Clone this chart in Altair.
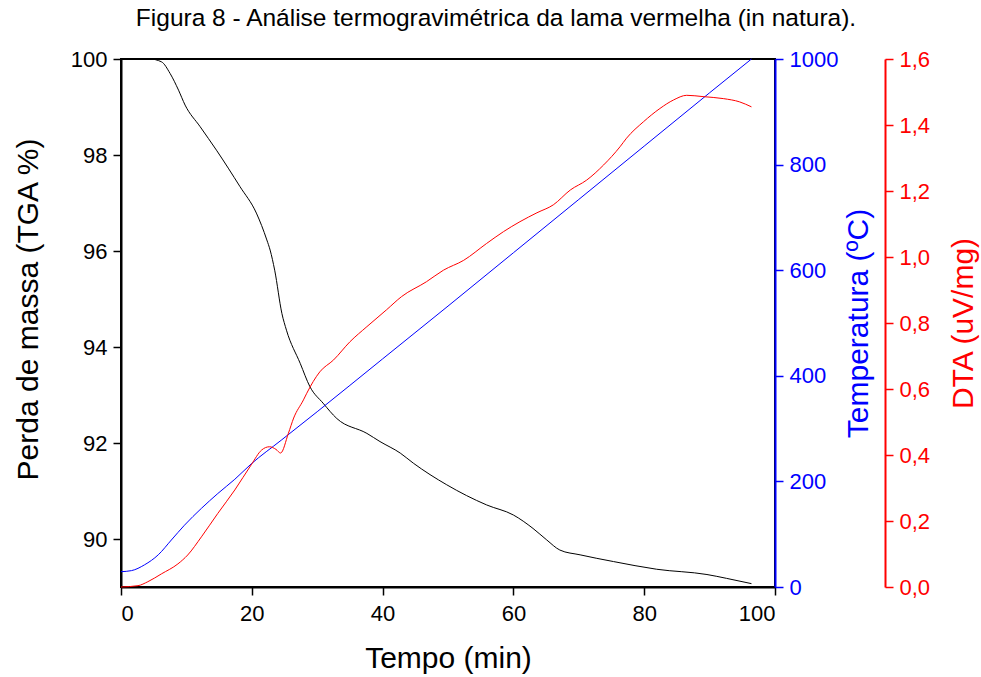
import altair as alt
import pandas as pd

# ---- data ----
tga_t = [0, 4.4, 6.2, 7.5, 8.8, 9.8, 12.1, 14.6, 18.2, 20.7, 22.3, 22.8, 23.5, 24.6, 25.3,
         27.4, 28.9, 30.9, 33.0, 37.6, 39.6, 42.7, 44.7, 49.8, 55.9, 60.0, 63.0, 65.1, 67.1,
         70.2, 75.3, 81.9, 89.6, 92.6, 96.4]
tga_v = [100, 100, 99.94, 99.7, 99.35, 99.04, 98.59, 98.1, 97.34, 96.79, 96.23, 96.02, 95.6, 94.7, 94.35,
         93.66, 93.17, 92.83, 92.51, 92.2, 92.03, 91.79, 91.58, 91.13, 90.71, 90.5, 90.22, 89.98, 89.77,
         89.67, 89.53, 89.37, 89.26, 89.18, 89.07]

temp_t = [0, 1.6, 3.6, 5.7, 7.7, 9.7, 12.3, 14.8, 17.4, 19.9, 24.5, 30, 40, 50, 60, 70, 80, 90, 96.4]
temp_v = [29, 31, 42, 61, 89, 117, 149, 177, 204, 233, 278, 332, 432, 532, 633, 734, 835, 936, 1000]

dta_t = [0, 2.6, 4.1, 6.2, 8.7, 10.2, 12.3, 14.8, 17.4, 19.9, 21.5, 22.7, 23.7, 24.4, 25.6, 26.4,
         27.9, 28.4, 30.4, 32.5, 35.0, 37.6, 40.6, 42.9, 46.7, 49.3, 52.4, 55.9, 58.5, 61.0, 63.6,
         66.1, 68.7, 71.2, 73.8, 76.3, 77.3, 79.9, 82.4, 84.5, 86.5, 89.0, 92.1, 94.6, 96.4]
dta_v = [0, 0.004, 0.016, 0.04, 0.07, 0.097, 0.152, 0.223, 0.294, 0.37, 0.415, 0.425, 0.417, 0.406, 0.466, 0.512,
         0.567, 0.587, 0.652, 0.688, 0.743, 0.789, 0.84, 0.88, 0.925, 0.96, 0.99, 1.041, 1.077, 1.107, 1.134,
         1.158, 1.203, 1.233, 1.279, 1.334, 1.36, 1.41, 1.45, 1.476, 1.49, 1.486, 1.48, 1.47, 1.455]

x_ticks = [0, 20, 40, 60, 80, 100]
tga_ticks = [90, 92, 94, 96, 98, 100]
temp_ticks = [0, 200, 400, 600, 800, 1000]
dta_ticks = [0, 0.2, 0.4, 0.6, 0.8, 1.0, 1.2, 1.4, 1.6]

FONT = "Liberation Sans"
W, H = 654, 528

df_tga = pd.DataFrame({"t": tga_t, "v": tga_v})
df_temp = pd.DataFrame({"t": temp_t, "v": temp_v})
df_dta = pd.DataFrame({"t": dta_t, "v": dta_v})

x_enc = alt.X("t:Q", scale=alt.Scale(domain=[0, 100], nice=False, zero=False),
              axis=alt.Axis(values=x_ticks, title="Tempo (min)", titlePadding=19,
                            labelPadding=8, format="d"))

tga = alt.Chart(df_tga).mark_line(color="black", strokeWidth=1, interpolate="monotone").encode(
    x=x_enc,
    y=alt.Y("v:Q", scale=alt.Scale(domain=[89, 100], nice=False, zero=False),
            axis=alt.Axis(orient="left", values=tga_ticks, title="Perda de massa (TGA %)",
                          titlePadding=27, titleY=250, labelPadding=6, format="d",
                          domainColor="black", tickColor="black", labelColor="black", titleColor="black")),
)

temp = alt.Chart(df_temp).mark_line(color="#0000ff", strokeWidth=1, interpolate="monotone").encode(
    x=x_enc,
    y=alt.Y("v:Q", scale=alt.Scale(domain=[0, 1000], nice=False, zero=False),
            axis=alt.Axis(orient="right", values=temp_ticks, title="Temperatura (ºC)",
                          titleAngle=270, titlePadding=36, labelPadding=6, format="d",
                          domainColor="#0000ff", tickColor="#0000ff", labelColor="#0000ff",
                          titleColor="#0000ff")),
)

dta = alt.Chart(df_dta).mark_line(color="#ff0000", strokeWidth=1, interpolate="monotone").encode(
    x=x_enc,
    y=alt.Y("v:Q", scale=alt.Scale(domain=[0, 1.6], nice=False, zero=False),
            axis=alt.Axis(orient="right", values=dta_ticks, title="DTA (uV/mg)", offset=110,
                          titleAngle=270, titlePadding=49, labelPadding=6,
                          labelExpr="replace(format(datum.value, '.1f'), '.', ',')",
                          domainColor="#ff0000", tickColor="#ff0000", labelColor="#ff0000",
                          titleColor="#ff0000")),
)

chart = (
    alt.layer(tga, temp, dta)
    .resolve_scale(y="independent")
    .properties(
        width=W, height=H,
        background="white",
        title=alt.TitleParams("Figura 8 - Análise termogravimétrica da lama vermelha (in natura).",
                              font=FONT, fontSize=24.5, fontWeight="normal", color="black",
                              anchor="middle", dx=48, offset=17),
        padding={"left": 121, "top": 59, "right": 206, "bottom": 90},
        autosize="none",
    )
    .configure_view(stroke="black", strokeWidth=2)
    .configure_axis(labelFont=FONT, titleFont=FONT, labelFontSize=22, titleFontSize=30,
                    titleFontWeight="normal", domainWidth=2, tickWidth=1.5, tickSize=8,
                    grid=False, domainColor="black", tickColor="black", labelColor="black",
                    titleColor="black")
)

chart.save("out.html", embed_options={"renderer": "svg", "actions": False})
